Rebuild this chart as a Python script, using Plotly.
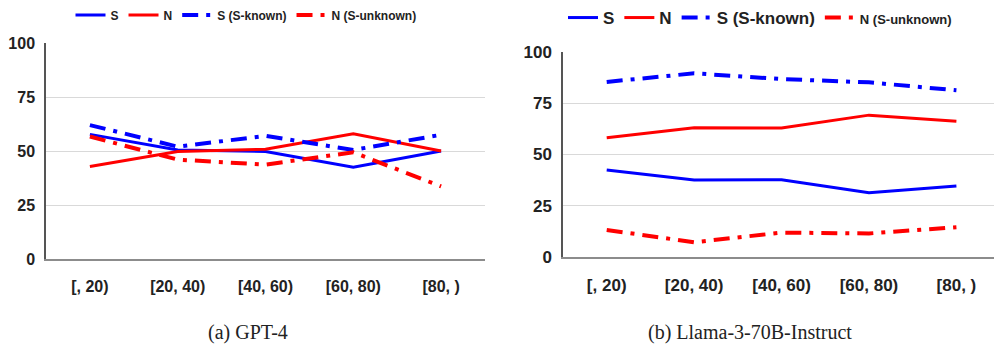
import plotly.graph_objects as go

categories = ["[, 20)", "[20, 40)", "[40, 60)", "[60, 80)", "[80, )"]

# (a) GPT-4
gpt4_S = [57.7, 50.5, 49.8, 42.5, 50.0]
gpt4_N = [42.8, 49.8, 50.8, 58.0, 50.0]
gpt4_S_known = [62.0, 52.0, 57.0, 50.5, 57.5]
gpt4_N_unknown = [56.7, 46.0, 43.7, 49.4, 33.6]

# (b) Llama-3-70B-Instruct
llama_S = [42.4, 37.6, 37.7, 31.4, 34.6]
llama_N = [58.2, 63.0, 62.9, 69.2, 66.2]
llama_S_known = [85.4, 89.6, 86.8, 85.2, 81.3]
llama_N_unknown = [13.2, 7.2, 11.9, 11.5, 14.5]

y_ticks = [0, 25, 50, 75, 100]
captions = ["(a) GPT-4", "(b) Llama-3-70B-Instruct"]

BLUE = "#0000FF"
RED = "#FF0000"
DASHDOT = "16px,8px,4px,8px"

fig = go.Figure()


def add_panel(xa, ya, legend, S, N, Sk, Nu, small_last):
    last_name = "N (S-unknown)"
    if small_last:
        last_name = "<span style='font-size:13px'>N (S-unknown)</span>"
    fig.add_trace(go.Scatter(x=categories, y=S, mode="lines", name="S",
                             line=dict(color=BLUE, width=3), xaxis=xa, yaxis=ya, legend=legend))
    fig.add_trace(go.Scatter(x=categories, y=N, mode="lines", name="N",
                             line=dict(color=RED, width=3), xaxis=xa, yaxis=ya, legend=legend))
    fig.add_trace(go.Scatter(x=categories, y=Sk, mode="lines", name="S (S-known)",
                             line=dict(color=BLUE, width=4, dash=DASHDOT), xaxis=xa, yaxis=ya, legend=legend))
    fig.add_trace(go.Scatter(x=categories, y=Nu, mode="lines", name=last_name,
                             line=dict(color=RED, width=4, dash=DASHDOT), xaxis=xa, yaxis=ya, legend=legend))


add_panel("x", "y", "legend", gpt4_S, gpt4_N, gpt4_S_known, gpt4_N_unknown, False)
add_panel("x2", "y2", "legend2", llama_S, llama_N, llama_S_known, llama_N_unknown, True)

W, H = 994, 345
tickfont_x1 = dict(family="Liberation Sans, Arial", size=16, color="#222", weight="bold")
tickfont_x2 = dict(family="Liberation Sans, Arial", size=17, color="#222", weight="bold")

common_x = dict(type="category", categoryorder="array", categoryarray=categories,
                showgrid=False, showline=True, linecolor="#8c8c8c", linewidth=2,
                ticks="", zeroline=False, ticklabelstandoff=12)
common_y = dict(range=[0, 100], tickvals=y_ticks, showgrid=True, gridcolor="#d9d9d9", gridwidth=1,
                showline=True, linecolor="#555555", linewidth=1.5, zeroline=False, ticks="",
                ticklabelstandoff=6)

fig.update_layout(
    width=W, height=H,
    margin=dict(l=0, r=0, t=0, b=0, autoexpand=False),
    paper_bgcolor="white", plot_bgcolor="white",
    font=dict(family="Liberation Sans, Arial", color="#222"),
    xaxis=dict(domain=[46 / W, 485 / W], range=[-0.5, 4.5], anchor="y",
               tickfont=tickfont_x1, **common_x),
    yaxis=dict(domain=[(H - 259) / H, (H - 43) / H], anchor="x",
               tickfont=dict(size=16, weight="bold", family="Liberation Sans, Arial", color="#222"), **common_y),
    xaxis2=dict(domain=[563 / W, 1.0], range=[-0.5, 4.43], anchor="y2",
                tickfont=tickfont_x2, **common_x),
    yaxis2=dict(domain=[(H - 257) / H, (H - 52) / H], anchor="x2",
                tickfont=dict(size=17, weight="bold", family="Liberation Sans, Arial", color="#222"), **common_y),
    legend=dict(orientation="h", x=246 / W, xanchor="center", y=1 - 15 / H, yanchor="middle",
                font=dict(size=12, weight="bold", family="Liberation Sans, Arial", color="#222"),
                bgcolor="rgba(0,0,0,0)", itemwidth=30, tracegroupgap=0),
    legend2=dict(orientation="h", x=760 / W, xanchor="center", y=1 - 18 / H, yanchor="middle",
                 font=dict(size=17, weight="bold", family="Liberation Sans, Arial", color="#222"),
                 bgcolor="rgba(0,0,0,0)", itemwidth=30, tracegroupgap=0),
    showlegend=True,
)

fig.add_annotation(text=captions[0], x=248 / W, y=1 - 332 / H, xref="paper", yref="paper",
                   showarrow=False, xanchor="center", yanchor="middle",
                   font=dict(family="Liberation Serif, Times New Roman", size=20, color="#222"))
fig.add_annotation(text=captions[1], x=750 / W, y=1 - 332 / H, xref="paper", yref="paper",
                   showarrow=False, xanchor="center", yanchor="middle",
                   font=dict(family="Liberation Serif, Times New Roman", size=20, color="#222"))

fig.write_html("out.html")
